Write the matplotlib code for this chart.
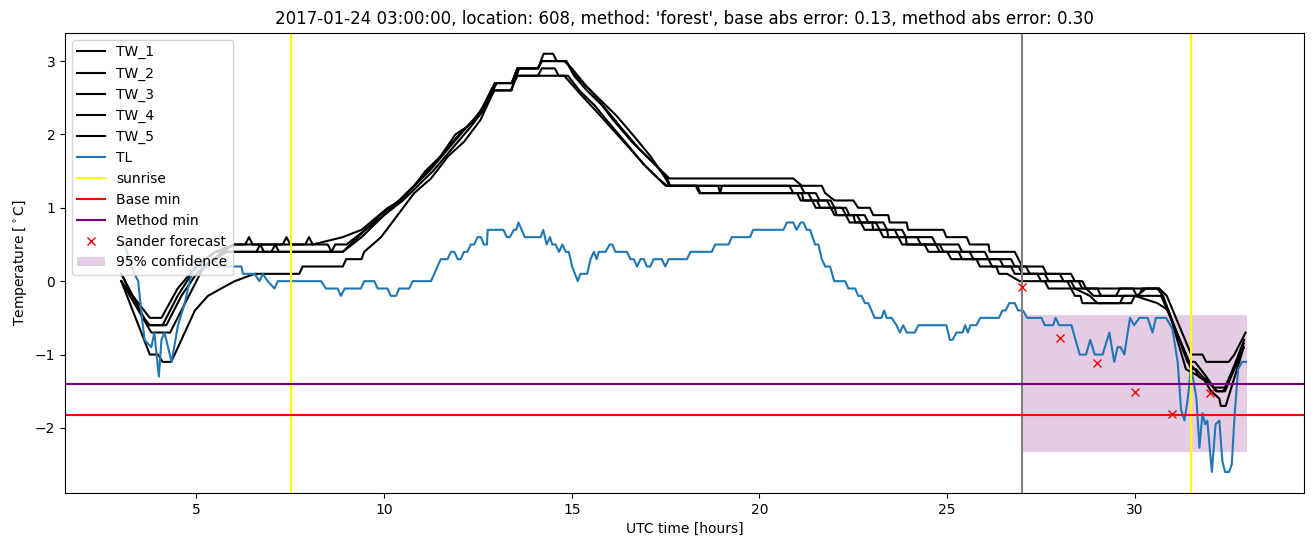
#! /usr/bin/env python
# Night-time minimum temperature forecast, one location / one night

import matplotlib
matplotlib.use("Agg")
import matplotlib.pyplot as plt

# Data
#------------------------------------------------------------------
title = "2017-01-24 03:00:00, location: 608, method: 'forest', base abs error: 0.13, method abs error: 0.30"

tw1_t = [3.0, 3.76, 4.07, 4.5, 5.0, 5.5, 6.0, 6.3, 6.4, 6.5, 7.9, 8.0, 8.1, 8.9, 9.4, 10.1, 10.45, 10.8, 11.1, 11.5,
         11.9, 12.2, 12.6, 12.85, 12.97, 13.4, 13.55, 14.1, 14.25, 14.5, 14.6, 14.85, 15.06, 15.4, 15.8, 16.1, 16.6,
         17.0, 17.4, 17.6, 20.9, 21.13, 21.66, 21.75, 22.0, 22.5, 22.63, 22.94, 23.03, 23.43, 23.47, 23.92, 23.96,
         24.9, 24.98, 25.52, 25.6, 26.1, 26.13, 26.8, 26.9, 27.0, 27.55, 27.65, 28.3, 28.4, 28.6, 28.7, 28.9, 29.5,
         29.6, 29.95, 30.05, 30.3, 30.65, 30.85, 31.5, 31.8, 31.9, 32.5, 32.65, 32.95]
tw1_v = [0.0, -0.5, -0.5, -0.1, 0.2, 0.4, 0.5, 0.5, 0.6, 0.5, 0.5, 0.6, 0.5, 0.6, 0.7, 1.0, 1.1, 1.3, 1.5, 1.7,
         2.0, 2.1, 2.3, 2.6, 2.7, 2.7, 2.9, 2.9, 3.1, 3.1, 3.0, 3.0, 2.8, 2.6, 2.4, 2.2, 1.9,
         1.7, 1.5, 1.4, 1.4, 1.3, 1.3, 1.2, 1.1, 1.1, 1.0, 1.0, 0.9, 0.9, 0.8, 0.8, 0.7,
         0.7, 0.6, 0.6, 0.5, 0.5, 0.4, 0.4, 0.3, 0.2, 0.2, 0.1, 0.1, 0.0, 0.0, -0.1, -0.2, -0.2,
         -0.1, -0.1, -0.2, -0.1, -0.1, -0.2, -1.0, -1.0, -1.1, -1.1, -1.0, -0.7]

tw2_t = [3.0, 3.7, 4.1, 4.5, 5.0, 5.5, 7.0, 7.1, 7.2, 8.9, 9.4, 10.0, 10.5, 10.9, 11.3, 11.8, 12.3, 12.6, 12.9,
         13.0, 13.45, 13.6, 14.1, 14.2, 14.85, 15.1, 15.5, 15.9, 16.3, 16.8, 17.2, 17.54, 17.62, 21.1, 21.2, 21.5,
         21.6, 21.9, 22.0, 22.3, 22.4, 22.8, 22.9, 23.3, 23.4, 23.8, 23.9, 24.6, 24.7, 25.3, 25.4, 26.0, 26.1, 26.7,
         26.8, 27.1, 27.2, 28.0, 28.1, 28.5, 28.6, 30.65, 31.5, 31.63, 31.8, 32.03, 32.16, 32.35, 32.47, 32.91]
tw2_v = [0.1, -0.6, -0.6, -0.2, 0.2, 0.4, 0.4, 0.5, 0.4, 0.4, 0.6, 0.9, 1.1, 1.3, 1.5, 1.8, 2.1, 2.3, 2.6,
         2.7, 2.7, 2.9, 2.9, 3.0, 3.0, 2.8, 2.6, 2.35, 2.1, 1.8, 1.6, 1.4, 1.3, 1.3, 1.2, 1.2,
         1.1, 1.1, 1.0, 1.0, 0.9, 0.9, 0.8, 0.8, 0.7, 0.7, 0.6, 0.6, 0.5, 0.5, 0.4, 0.4, 0.3, 0.3,
         0.2, 0.2, 0.1, 0.1, 0.0, 0.0, -0.1, -0.1, -1.2, -1.2, -1.3, -1.4, -1.5, -1.5, -1.4, -0.8]

tw3_t = [3.0, 3.8, 4.3, 4.7, 5.2, 5.7, 6.0, 7.3, 7.4, 7.5, 8.5, 8.6, 8.7, 9.0, 9.5, 10.0, 10.6, 11.0, 11.5, 12.0,
         12.4, 12.8, 12.95, 13.4, 13.5, 14.1, 14.2, 14.55, 14.65, 14.9, 15.2, 15.6, 16.0, 16.5, 16.9, 17.3, 17.5,
         18.3, 18.4, 21.0, 21.1, 21.4, 21.5, 21.9, 22.0, 22.3, 22.4, 22.7, 22.8, 23.2, 23.3, 23.7, 23.8, 24.4, 24.5,
         25.3, 25.4, 26.1, 26.2, 26.7, 26.8, 27.4, 27.5, 28.3, 28.4, 28.8, 29.0, 29.6, 29.7, 30.1, 30.2, 30.6,
         30.75, 31.4, 31.6, 31.7, 32.0, 32.2, 32.4, 32.9]
tw3_v = [0.0, -0.7, -0.7, -0.3, 0.2, 0.4, 0.5, 0.5, 0.6, 0.5, 0.5, 0.4, 0.5, 0.5, 0.7, 0.9, 1.2, 1.4, 1.7, 2.0,
         2.2, 2.5, 2.6, 2.6, 2.8, 2.8, 2.9, 2.9, 2.8, 2.8, 2.6, 2.4, 2.15, 1.85, 1.6, 1.4, 1.3,
         1.3, 1.2, 1.2, 1.1, 1.1, 1.0, 1.0, 0.9, 0.9, 0.8, 0.8, 0.7, 0.7, 0.6, 0.6, 0.5, 0.5, 0.4,
         0.4, 0.3, 0.3, 0.2, 0.2, 0.1, 0.1, 0.0, 0.0, -0.1, -0.2, -0.3, -0.3, -0.2, -0.2, -0.1, -0.1,
         -0.2, -1.1, -1.2, -1.3, -1.4, -1.5, -1.5, -0.9]

tw4_t = [3.0, 3.6, 3.76, 4.2, 4.6, 5.0, 5.5, 5.8, 6.6, 6.7, 6.8, 8.9, 9.3, 9.9, 10.4, 10.8, 11.2, 11.7, 12.2,
         12.55, 12.85, 12.95, 13.4, 13.55, 14.1, 14.2, 14.8, 15.0, 15.4, 15.8, 16.2, 16.7, 17.1, 17.5, 17.6, 18.9,
         18.95, 19.0, 20.8, 20.9, 21.3, 21.4, 21.8, 21.9, 22.2, 22.3, 22.6, 22.7, 23.1, 23.2, 23.6, 23.7, 24.2,
         24.3, 24.8, 24.9, 25.6, 25.7, 26.4, 26.5, 26.9, 27.0, 27.6, 27.7, 28.2, 28.3, 29.0, 29.1, 30.4, 30.7,
         31.45, 31.6, 31.9, 32.1, 32.4, 32.9]
tw4_v = [0.1, -0.5, -0.6, -0.6, -0.2, 0.1, 0.3, 0.4, 0.4, 0.5, 0.4, 0.4, 0.6, 0.9, 1.1, 1.3, 1.5, 1.8, 2.1,
         2.3, 2.6, 2.7, 2.7, 2.9, 2.9, 3.0, 3.0, 2.9, 2.65, 2.45, 2.25, 1.95, 1.7, 1.4, 1.3, 1.3,
         1.2, 1.3, 1.3, 1.2, 1.2, 1.1, 1.1, 1.0, 1.0, 0.9, 0.9, 0.8, 0.8, 0.7, 0.7, 0.6, 0.6,
         0.5, 0.5, 0.4, 0.4, 0.3, 0.3, 0.2, 0.2, 0.1, 0.1, 0.0, 0.0, -0.1, -0.1, -0.2, -0.2, -0.2,
         -1.1, -1.1, -1.3, -1.45, -1.45, -0.85]

tw5_t = [3.0, 3.76, 3.98, 4.1, 4.33, 4.96, 5.31, 5.66, 6.02, 6.55, 7.74, 7.83, 8.9, 8.99, 9.4, 9.47, 9.92, 10.36,
         10.8, 11.25, 11.7, 12.13, 12.57, 12.93, 13.37, 13.55, 14.8, 15.23, 15.68, 16.12, 16.56, 17.0, 17.3, 17.54,
         18.35, 18.42, 21.13, 21.17, 21.53, 21.62, 22.0, 22.06, 22.5, 22.55, 23.0, 23.03, 23.4, 23.43, 23.9, 23.92,
         24.7, 24.8, 25.0, 25.11, 25.78, 25.87, 26.31, 26.38, 26.6, 26.93, 27.6, 27.7, 28.3, 28.4, 28.55, 28.6,
         29.9, 30.0, 30.6, 30.9, 31.36, 31.72, 31.85, 32.03, 32.25, 32.29, 32.42, 32.9]
tw5_v = [0.0, -1.0, -1.0, -1.1, -1.1, -0.4, -0.2, -0.1, 0.0, 0.1, 0.1, 0.2, 0.2, 0.3, 0.3, 0.4, 0.6, 0.9,
         1.2, 1.4, 1.7, 1.9, 2.2, 2.6, 2.6, 2.8, 2.8, 2.55, 2.3, 2.05, 1.8, 1.55, 1.4, 1.3,
         1.3, 1.2, 1.2, 1.1, 1.1, 1.0, 1.0, 0.9, 0.9, 0.8, 0.8, 0.7, 0.7, 0.6, 0.6, 0.5,
         0.5, 0.4, 0.4, 0.3, 0.3, 0.2, 0.2, 0.1, 0.1, 0.0, 0.0, -0.1, -0.1, -0.2, -0.2, -0.3,
         -0.3, -0.2, -0.3, -0.4, -1.2, -1.3, -1.35, -1.5, -1.6, -1.7, -1.7, -0.9]

tl_t = [3.0, 3.1, 3.2, 3.35, 3.45, 3.55, 3.62, 3.8, 3.88, 4.0, 4.07, 4.15, 4.34, 4.51, 4.69, 4.82, 4.95, 5.31,
        5.45, 5.5, 5.57, 6.2, 6.24, 6.55, 6.68, 6.77, 6.9, 7.08, 7.17, 8.32, 8.45, 8.76, 8.85, 8.95, 9.38, 9.47,
        9.74, 9.83, 10.09, 10.18, 10.32, 10.4, 10.67, 10.76, 11.25, 11.51, 11.69, 11.78, 11.87, 11.96, 12.04,
        12.13, 12.22, 12.31, 12.4, 12.49, 12.58, 12.66, 12.74, 12.76, 13.18, 13.27, 13.35, 13.46, 13.52, 13.58,
        13.75, 14.17, 14.24, 14.33, 14.42, 14.48, 14.57, 14.66, 14.75, 14.84, 14.92, 15.01, 15.16, 15.23, 15.41,
        15.5, 15.59, 15.66, 15.72, 15.9, 16.01, 16.08, 16.16, 16.47, 16.56, 16.65, 16.74, 16.83, 16.92, 17.0,
        17.09, 17.18, 17.4, 17.49, 17.58, 18.07, 18.16, 18.73, 18.82, 19.18, 19.26, 19.75, 19.83, 20.64, 20.73,
        20.9, 20.99, 21.1, 21.17, 21.26, 21.35, 21.48, 21.57, 21.66, 21.75, 21.88, 21.99, 22.28, 22.37, 22.55,
        22.63, 22.72, 22.81, 22.9, 23.07, 23.25, 23.32, 23.39, 23.52, 23.65, 23.74, 23.83, 23.92, 24.14, 24.23,
        24.98, 25.07, 25.14, 25.25, 25.41, 25.48, 25.55, 25.62, 25.78, 25.88, 26.38, 26.47, 26.56, 26.65, 26.8,
        26.89, 27.02, 27.13, 27.51, 27.6, 27.82, 27.89, 27.98, 28.31, 28.53, 28.7, 28.81, 28.93, 29.14, 29.32,
        29.45, 29.54, 29.62, 29.72, 29.87, 29.98, 30.12, 30.34, 30.47, 30.56, 30.83, 31.0, 31.14, 31.23, 31.32,
        31.41, 31.49, 31.56, 31.64, 31.72, 31.8, 31.87, 31.93, 32.05, 32.15, 32.25, 32.33, 32.4, 32.51, 32.58,
        32.66, 32.75, 32.85, 32.96]
tl_v = [0.5, 0.5, 0.3, 0.1, 0.0, -0.5, -0.8, -0.9, -0.7, -1.3, -0.8, -0.7, -1.1, -0.6, -0.3, 0.0, 0.2, 0.2,
        0.3, 0.3, 0.2, 0.2, 0.1, 0.1, 0.0, 0.1, 0.0, -0.1, 0.0, 0.0, -0.1, -0.1, -0.2, -0.1, -0.1, 0.0,
        0.0, -0.1, -0.1, -0.2, -0.2, -0.1, -0.1, 0.0, 0.0, 0.3, 0.3, 0.4, 0.4, 0.3, 0.3,
        0.4, 0.4, 0.5, 0.5, 0.6, 0.6, 0.5, 0.5, 0.7, 0.7, 0.6, 0.6, 0.7, 0.7, 0.8,
        0.6, 0.6, 0.7, 0.5, 0.6, 0.5, 0.5, 0.4, 0.5, 0.4, 0.4, 0.2, 0.0, 0.1, 0.1,
        0.3, 0.4, 0.3, 0.4, 0.4, 0.5, 0.5, 0.4, 0.4, 0.3, 0.3, 0.2, 0.3, 0.3, 0.2,
        0.2, 0.3, 0.3, 0.2, 0.3, 0.3, 0.4, 0.4, 0.5, 0.5, 0.6, 0.6, 0.7, 0.7, 0.8,
        0.8, 0.7, 0.8, 0.8, 0.7, 0.7, 0.5, 0.5, 0.3, 0.2, 0.2, 0.0, 0.0, -0.1, -0.1,
        -0.2, -0.2, -0.3, -0.3, -0.5, -0.5, -0.4, -0.5, -0.5, -0.6, -0.7, -0.6, -0.7, -0.7, -0.6,
        -0.6, -0.8, -0.8, -0.7, -0.7, -0.6, -0.7, -0.6, -0.6, -0.5, -0.5, -0.4, -0.4, -0.3, -0.3,
        -0.4, -0.4, -0.5, -0.5, -0.6, -0.6, -0.5, -0.6, -0.6, -1.0, -1.0, -0.8, -1.0, -1.0, -0.7,
        -1.1, -0.9, -0.9, -1.0, -0.5, -0.6, -0.5, -0.5, -0.7, -0.5, -0.5, -0.65, -1.1, -1.75, -1.9,
        -1.6, -1.2, -1.35, -1.6, -2.27, -1.8, -1.95, -1.9, -2.6, -1.95, -1.9, -2.45, -2.6, -2.6, -2.5,
        -1.8, -1.2, -1.1, -1.1]

sunrise = [7.52, 31.5]
now_t = 27.0
base_min = -1.82
method_min = -1.40

sander_t = [27, 28, 29, 30, 31, 32]
sander_v = [-0.08, -0.78, -1.12, -1.51, -1.81, -1.52]

conf_t = [27.0, 33.0]
conf_lo = [-2.33, -2.33]
conf_hi = [-0.46, -0.46]
#------------------------------------------------------------------

fig = plt.figure(figsize=(13.13, 5.47), dpi=100)
ax = fig.gca()
fig.subplots_adjust(left=0.0495, right=0.993, top=0.94, bottom=0.099)

ax.plot(tw1_t, tw1_v, 'k', label='TW_1')
ax.plot(tw2_t, tw2_v, 'k', label='TW_2')
ax.plot(tw3_t, tw3_v, 'k', label='TW_3')
ax.plot(tw4_t, tw4_v, 'k', label='TW_4')
ax.plot(tw5_t, tw5_v, 'k', label='TW_5')
ax.plot(tl_t, tl_v, color='tab:blue', label='TL')
ax.axvline(sunrise[0], color='yellow', label='sunrise')
ax.axvline(sunrise[1], color='yellow')
ax.axvline(now_t, color='gray')
ax.axhline(base_min, color='red', label='Base min')
ax.axhline(method_min, color='purple', label='Method min')
ax.plot(sander_t, sander_v, 'rx', label='Sander forecast')
ax.fill_between(conf_t, conf_lo, conf_hi, color='purple', alpha=0.2, linewidth=0, label='95% confidence')

ax.set_title(title)
ax.set_xlabel("UTC time [hours]")
ax.set_ylabel(r"Temperature [$^\circ$C]")
ax.legend(loc='upper left')

fig.savefig("out.png")
